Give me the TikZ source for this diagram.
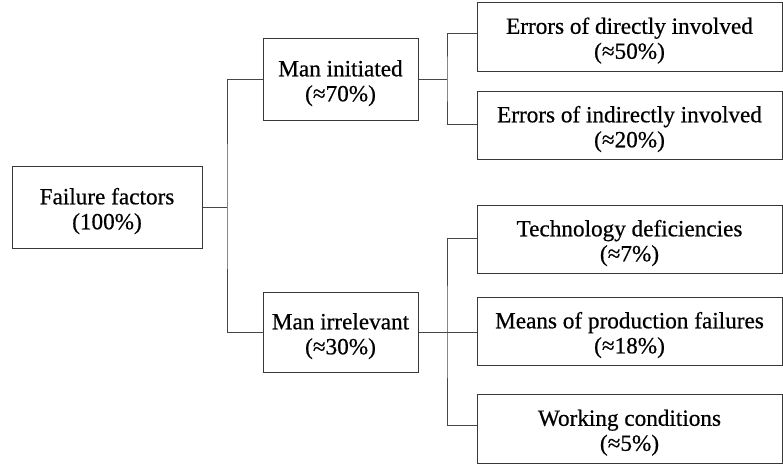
\documentclass[tikz,border=0pt]{standalone}
\usepackage{fontspec}
\setmainfont{Liberation Serif}
\newfontfamily\heavyserif{Liberation Serif}[RawFeature={embolden=0.6}]
\newcommand\boxtext[2]{\raisebox{-11pt}[0pt][0pt]{\begin{tabular}{@{}c@{}}#1\\#2\end{tabular}}}
\begin{document}
\begin{tikzpicture}[x=1pt,y=-1pt,
  box/.style={draw=black!78, line width=1pt, inner sep=0pt,
    font=\heavyserif\fontsize{23.2}{25}\selectfont, text=black},
  conn/.style={draw=black!72, line width=1pt}]
\useasboundingbox (0,0) rectangle (783,464);
\node[box, minimum width=190pt, minimum height=82pt] (ff) at (107,207) {\boxtext{Failure factors}{(100\%)}};
\node[box, minimum width=155pt, minimum height=82pt] (mi) at (340.5,79) {\boxtext{Man initiated}{(≈70\%)}};
\node[box, minimum width=155pt, minimum height=80pt] (mir) at (340.5,332) {\boxtext{Man irrelevant}{(≈30\%)}};
\node[box, minimum width=305pt, minimum height=69pt] (ed) at (629.5,36.5) {\boxtext{Errors of directly involved}{(≈50\%)}};
\node[box, minimum width=305pt, minimum height=68pt] (ei) at (629.5,125) {\boxtext{Errors of indirectly involved}{(≈20\%)}};
\node[box, minimum width=305pt, minimum height=68pt] (tech) at (629.5,239) {\boxtext{Technology deficiencies}{(≈7\%)}};
\node[box, minimum width=305pt, minimum height=68pt] (means) at (629.5,331) {\boxtext{Means of production failures}{(≈18\%)}};
\node[box, minimum width=305pt, minimum height=69pt] (work) at (629.5,428.5) {\boxtext{Working conditions}{(≈5\%)}};
\coordinate (j1) at (227,207);
\coordinate (j2) at (447,79);
\coordinate (j3) at (447,332);
\draw[conn] (ff.east) -- (j1);
\draw[conn] (mi.west) -| (j1) |- (mir.west);
\draw[conn] (mi.east) -- (j2);
\draw[conn] (ed.west |- 0,33) -| (j2) |- (ei.west |- 0,124);
\draw[conn] (mir.east) -- (j3);
\draw[conn] (tech.west |- 0,238) -| (j3) |- (work.west |- 0,425);
\draw[conn] (j3) -- (means.west |- 0,332);
\end{tikzpicture}
\end{document}
